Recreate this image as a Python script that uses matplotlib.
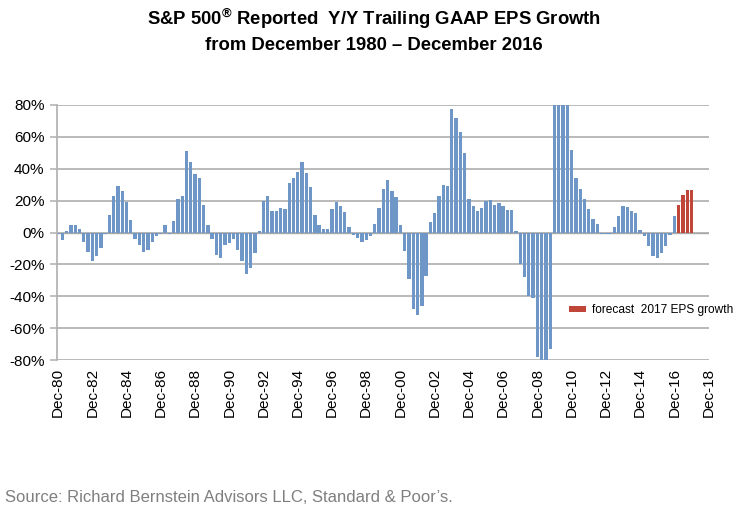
import numpy as np
import matplotlib
matplotlib.use("Agg")
import matplotlib.pyplot as plt

# quarterly Y/Y growth in %, Dec-80 .. Dec-16
eps_growth = [
    -1, -5, 1, 4.5, 4.5, 2, -6, -12,            # Dec-80 .. Sep-82
    -18, -15, -10, -1, 11, 23, 29, 26,          # Dec-82 .. Sep-84
    19, 8, -4, -8, -12, -11, -6, -2,            # Dec-84 .. Sep-86
    -1, 5, -1, 7, 21, 23, 51, 44,               # Dec-86 .. Sep-88
    36.5, 34, 17, 4.5, -4, -14, -16, -8,        # Dec-88 .. Sep-90
    -6.5, -4, -11, -18, -26, -22.5, -13, 1,     # Dec-90 .. Sep-92
    20, 23, 13.5, 13.5, 15.5, 14.5, 31, 34.5,   # Dec-92 .. Sep-94
    38, 44, 37.5, 28.5, 11, 4.5, 2.5, 2.5,      # Dec-94 .. Sep-96
    14.5, 19, 16.5, 13, 3.5, -1.5, -3.2, -6,    # Dec-96 .. Sep-98
    -5, -2, 5.5, 15.5, 27.4, 33, 26.3, 22,      # Dec-98 .. Sep-00
    4.4, -11.5, -29.2, -48, -51.5, -46, -27, 6.5,  # Dec-00 .. Sep-02
    12, 23.2, 30, 29, 77.4, 72, 63, 49.6,       # Dec-02 .. Sep-04
    21, 16.5, 13.3, 15.5, 19.8, 20.5, 17.5, 18.6,  # Dec-04 .. Sep-06
    16.5, 14.4, 14.4, 1, -19.8, -28, -40, -41.4,   # Dec-06 .. Sep-08
    -78, -88, -86, -73, 240, 700, 400, 160,     # Dec-08 .. Sep-10 (some off scale)
    52, 34.5, 27, 21, 15, 8.5, 5.6, -1,         # Dec-10 .. Sep-12
    -1, -1, 3.5, 10.3, 16.5, 15.7, 13.3, 12.5,  # Dec-12 .. Sep-14
    1.5, -2, -8.2, -15, -16, -12.8, -8.2, -1.5, # Dec-14 .. Sep-16
    10.3,                                       # Dec-16
]
forecast_2017 = [17, 23.4, 26.5, 26.5]          # Mar-17 .. Dec-17
tick_labels = ["Dec-%02d" % (y % 100) for y in range(1980, 2019, 2)]
y_ticks = [-80, -60, -40, -20, 0, 20, 40, 60, 80]

blue = "#6e97c8"
red = "#c0463a"
grid_c = "#b4b4b4"

plt.rcParams["font.family"] = ["Liberation Sans", "DejaVu Sans"]

fig = plt.figure(figsize=(7.44, 5.17), dpi=100)
ax = fig.add_axes([57/744, 1-360/517, (709-57)/744, (360-105)/517])

n_hist = len(eps_growth)
x_hist = np.arange(n_hist)
x_fc = np.arange(n_hist, n_hist + len(forecast_2017))

ax.axhline(0, color="#a8a8a8", lw=1.0, zorder=1)
ax.bar(x_hist, eps_growth, width=0.78, color=blue, zorder=2)
fc = ax.bar(x_fc, forecast_2017, width=0.78, color=red, zorder=2,
            label="forecast  2017 EPS growth")

ax.set_ylim(-80, 80)
ax.set_xlim(-0.25, 152.1)
ax.set_yticks(y_ticks)
ax.set_yticklabels(["%d%%" % v for v in y_ticks], fontsize=11)
ax.set_xticks(np.arange(0, 8*len(tick_labels), 8))
ax.set_xticklabels(tick_labels, rotation=90, fontsize=11)
ax.tick_params(axis="x", length=0, pad=6)
ax.tick_params(axis="y", length=5, width=1.2, color=grid_c, pad=4)

ax.yaxis.grid(True, color=grid_c, lw=1.3)
ax.set_axisbelow(True)
for s in ["top", "right", "bottom"]:
    ax.spines[s].set_visible(False)
ax.spines["left"].set_color(grid_c)
ax.spines["left"].set_linewidth(1.3)

leg = ax.legend(handles=[fc], loc="center left",
                bbox_to_anchor=(563/744, 1-310/517), bbox_transform=fig.transFigure,
                frameon=False, fontsize=8.6, handlelength=1.4, handleheight=0.4,
                handletextpad=0.5, borderpad=0)

fig.text(374/744, 1-19/517, r"S&P 500$^{\mathregular{®}}$ Reported  Y/Y Trailing GAAP EPS Growth",
         ha="center", va="center", fontsize=13.3, fontweight="bold")
fig.text(374/744, 1-45/517, "from December 1980 \u2013 December 2016",
         ha="center", va="center", fontsize=13.3, fontweight="bold")

fig.text(5/744, 1-497/517, "Source: Richard Bernstein Advisors LLC, Standard & Poor\u2019s.",
         ha="left", va="center", fontsize=12, color="#7f7f7f")

fig.savefig("out.png", dpi=100)
